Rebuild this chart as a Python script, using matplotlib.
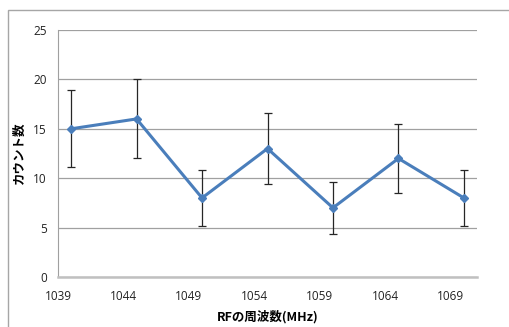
import matplotlib
matplotlib.use("Agg")
import matplotlib.pyplot as plt
from matplotlib.patches import Rectangle

plt.rcParams['font.family'] = ['Open Sans', 'Noto Sans CJK JP', 'DejaVu Sans']

freq = [1040, 1045, 1050, 1055, 1060, 1065, 1070]
counts = [15, 16, 8, 13, 7, 12, 8]
errors = [3.9, 4.0, 2.8, 3.6, 2.6, 3.5, 2.8]
xticks = [1039, 1044, 1049, 1054, 1059, 1064, 1069]
yticks = [0, 5, 10, 15, 20, 25]

W, H = 510, 327
fig = plt.figure(figsize=(W / 100, H / 100), dpi=100)

# outer chart border (continues past right/bottom edge)
fig.patches.append(Rectangle((8 / W, -0.1), 1.2, 1 - 10 / H + 0.1,
                             transform=fig.transFigure, fill=False,
                             edgecolor='#a6a6a6', linewidth=1))

ax = fig.add_axes([58 / W, 1 - 277 / H, (477 - 58) / W, (277 - 30) / H])

ax.errorbar(freq, counts, yerr=errors, color='#4a7ebb', linewidth=2.2,
            marker='D', markersize=4.5, ecolor='#262626', elinewidth=0.9,
            capsize=3, capthick=0.9, zorder=3)

ax.set_xlim(1039, 1071)
ax.set_ylim(0, 25)
ax.set_xticks(xticks)
ax.set_yticks(yticks)
ax.grid(axis='y', color='#a0a0a0', linewidth=0.9)
ax.set_axisbelow(True)
ax.tick_params(length=0, labelsize=8.5, colors='#222222')
ax.tick_params(axis='x', pad=9)
ax.tick_params(axis='y', pad=8)

for s in ['top', 'right']:
    ax.spines[s].set_visible(False)
ax.spines['left'].set_color('#a0a0a0')
ax.spines['bottom'].set_color('#c0c0c0')
ax.spines['bottom'].set_linewidth(1.8)

fig.text(268 / W, 1 - 317 / H, 'RFの周波数(MHz)', fontsize=9, fontweight='bold',
         family=['Noto Sans CJK JP', 'DejaVu Sans'], ha='center', va='center')
fig.text(19 / W, 1 - 153 / H, 'カウント数', fontsize=9, fontweight='bold',
         family=['Noto Sans CJK JP', 'DejaVu Sans'], ha='center', va='center',
         rotation=90)

fig.savefig('out.png', dpi=100)
